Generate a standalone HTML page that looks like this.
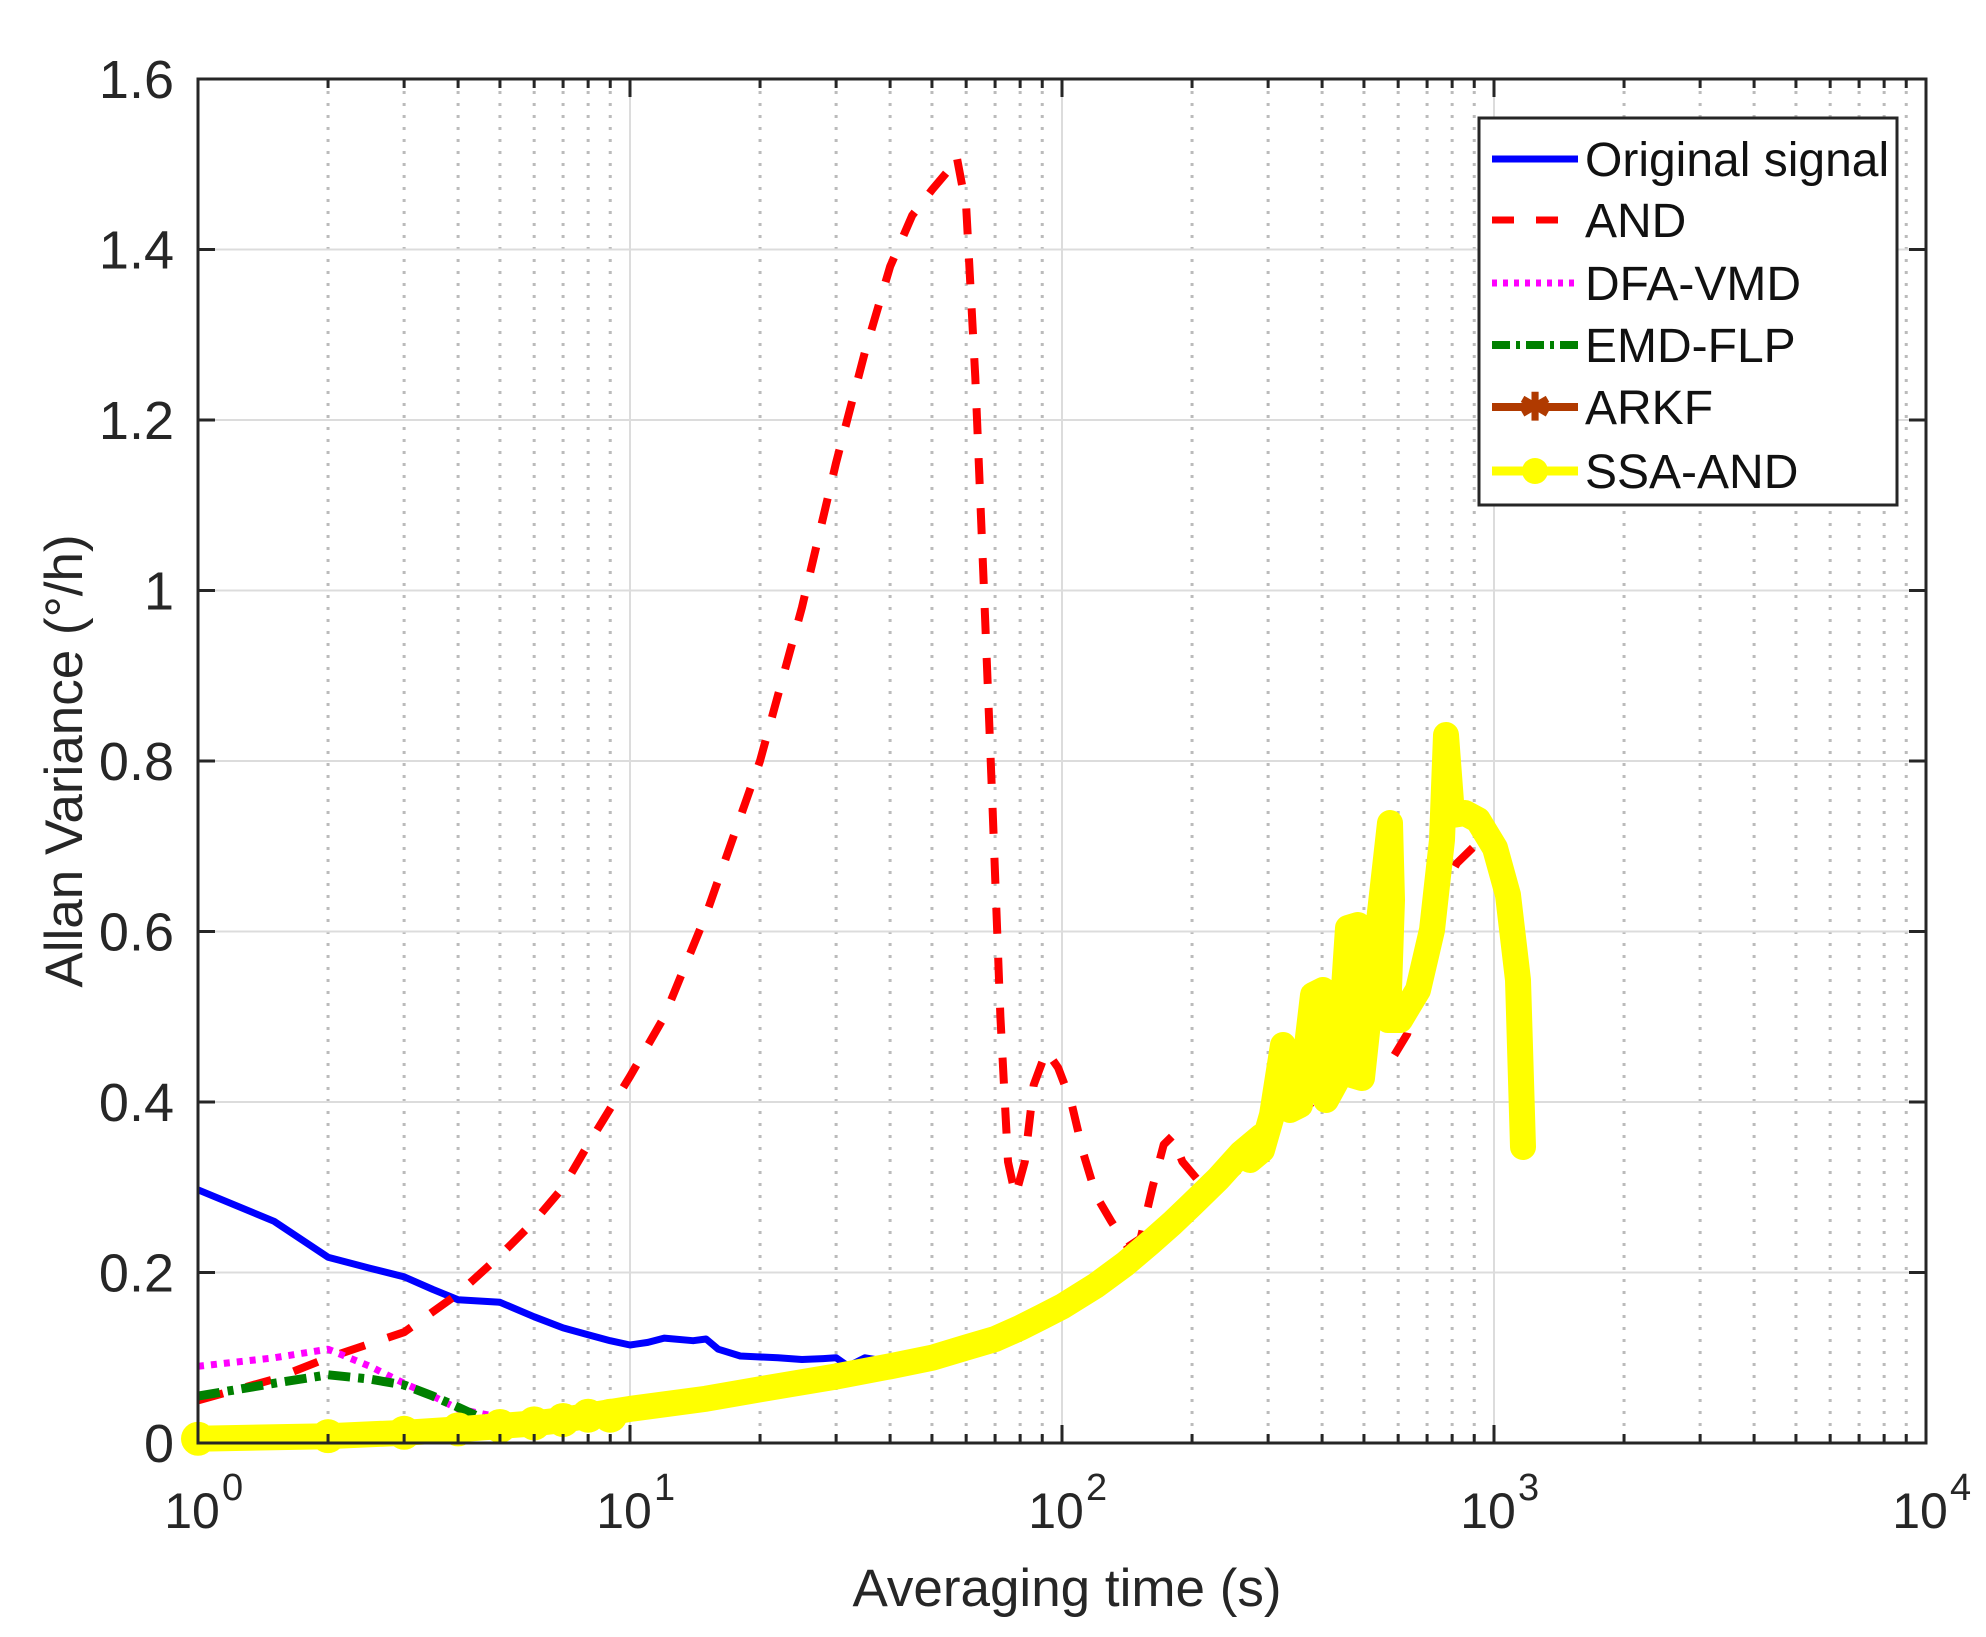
<!DOCTYPE html>
<html><head><meta charset="utf-8"><style>
html,body{margin:0;padding:0;background:#fff;}
svg{display:block;font-family:"Liberation Sans",Arial,sans-serif;}
</style></head><body>
<svg id="s" width="1986" height="1637" viewBox="0 0 1986 1637" xmlns="http://www.w3.org/2000/svg">
<rect width="1986" height="1637" fill="#fff"/>
<g id="grid"></g>
<g id="series" fill="none" stroke-linejoin="round"></g>
<rect x="198" y="79" width="1728" height="1364" fill="none" stroke="#262626" stroke-width="3"/>
<g id="ticks" stroke="#262626" stroke-width="3"></g>
<g id="labels" fill="#262626"></g>
<text x="1067" y="1606" font-size="53" text-anchor="middle" fill="#262626">Averaging time (s)</text>
<text transform="translate(82,761) rotate(-90)" font-size="53" text-anchor="middle" fill="#262626">Allan Variance (°/h)</text>
<g id="legend">
<rect x="1479" y="118" width="418" height="387" fill="#fff" stroke="#262626" stroke-width="3"/>
<line x1="1492" y1="159" x2="1578" y2="159" stroke="#0000ff" stroke-width="7"/>
<line x1="1492" y1="220" x2="1578" y2="220" stroke="#ff0000" stroke-width="7" stroke-dasharray="22,22"/>
<line x1="1492" y1="283" x2="1578" y2="283" stroke="#ff00ff" stroke-width="7" stroke-dasharray="5,6"/>
<line x1="1492" y1="345" x2="1578" y2="345" stroke="#008000" stroke-width="8" stroke-dasharray="18,6,4,6"/>
<line x1="1492" y1="407" x2="1578" y2="407" stroke="#b03a00" stroke-width="8"/>
<text x="1535" y="420" font-size="38" text-anchor="middle" fill="#b03a00" font-weight="bold">✱</text>
<line x1="1492" y1="471" x2="1578" y2="471" stroke="#ffff00" stroke-width="9"/>
<circle cx="1535" cy="471" r="13" fill="#ffff00"/>
<g font-size="48" fill="#111">
<text x="1585" y="176">Original signal</text>
<text x="1585" y="237">AND</text>
<text x="1585" y="300">DFA-VMD</text>
<text x="1585" y="362">EMD-FLP</text>
<text x="1585" y="424">ARKF</text>
<text x="1585" y="488">SSA-AND</text>
</g>
</g>
</svg>
<script>
var NS="http://www.w3.org/2000/svg";
function X(t){return 198+432*Math.log10(t);}
function Y(v){return 1443-852.5*v;}
function el(p,tag,a){var e=document.createElementNS(NS,tag);for(var k in a)e.setAttribute(k,a[k]);p.appendChild(e);return e;}
var g=document.getElementById('grid'),tk=document.getElementById('ticks'),lb=document.getElementById('labels');
for(var d=0;d<4;d++)for(var m=2;m<=9;m++){var x=X(m*Math.pow(10,d));
 el(g,'line',{x1:x,y1:79,x2:x,y2:1443,stroke:'#bbb','stroke-width':3,'stroke-dasharray':'3,9'});
 el(tk,'line',{x1:x,y1:1443,x2:x,y2:1434});el(tk,'line',{x1:x,y1:79,x2:x,y2:88});}
for(var d=0;d<=4;d++){var x=X(Math.pow(10,d));
 el(g,'line',{x1:x,y1:79,x2:x,y2:1443,stroke:'#dcdcdc','stroke-width':2});
 el(tk,'line',{x1:x,y1:1443,x2:x,y2:1425});el(tk,'line',{x1:x,y1:79,x2:x,y2:97});
 var t=el(lb,'text',{x:x-6,y:1528,'font-size':50,'text-anchor':'middle'});t.textContent='10';
 var s=el(lb,'text',{x:x+24,y:1500,'font-size':38});s.textContent=String(d);}
var yl=['0','0.2','0.4','0.6','0.8','1','1.2','1.4','1.6'];
for(var i=0;i<=8;i++){var y=Y(i*0.2);
 if(i>0&&i<8)el(g,'line',{x1:198,y1:y,x2:1926,y2:y,stroke:'#dcdcdc','stroke-width':2});
 el(tk,'line',{x1:198,y1:y,x2:215,y2:y});el(tk,'line',{x1:1926,y1:y,x2:1909,y2:y});
 var t=el(lb,'text',{x:174,y:y+19,'font-size':54,'text-anchor':'end'});t.textContent=yl[i];}
function path(pts){return pts.map(function(p,i){return (i?'L':'M')+X(p[0]).toFixed(1)+','+Y(p[1]).toFixed(1);}).join(' ');}
var S=document.getElementById('series');
var blue=[[1,0.297],[1.5,0.26],[2,0.218],[2.5,0.205],[3,0.195],[3.5,0.18],[4,0.168],[5,0.165],[6,0.148],[7,0.135],[8,0.127],[9,0.12],[10,0.115],[11,0.118],[12,0.123],[14,0.12],[15,0.122],[16,0.11],[18,0.102],[22,0.1],[25,0.098],[28,0.099],[30,0.1],[32,0.09],[35,0.1],[38,0.097],[40,0.1],[45,0.1]];
el(S,'path',{d:path(blue),stroke:'#0000ff','stroke-width':7});
var red=[[1,0.05],[1.5,0.075],[2,0.1],[3,0.13],[4,0.175],[5,0.22],[6,0.26],[7,0.3],[8,0.35],[10,0.43],[12,0.5],[15,0.62],[20,0.8],[25,0.98],[30,1.15],[35,1.28],[40,1.38],[45,1.44],[50,1.47],[54,1.49],[57,1.51],[60,1.45],[63,1.25],[66,1.0],[69,0.75],[72,0.5],[75,0.33],[78,0.29],[82,0.33],[86,0.42],[92,0.46],[98,0.44],[105,0.4],[112,0.34],[120,0.29],[130,0.26],[142,0.23],[152,0.24],[162,0.3],[172,0.35],[180,0.36],[190,0.33],[205,0.31],[230,0.3],[270,0.33],[320,0.37],[380,0.4],[430,0.43],[470,0.41],[520,0.45],[580,0.45],[630,0.48],[700,0.6],[760,0.65],[820,0.68],[900,0.7],[960,0.7]];
el(S,'path',{d:path(red),stroke:'#ff0000','stroke-width':8,'stroke-dasharray':'26,24'});
var mag=[[1,0.09],[1.5,0.1],[2,0.11],[2.5,0.09],[3,0.07],[3.5,0.055],[4,0.04],[5,0.03],[6,0.03],[7,0.035]];
el(S,'path',{d:path(mag),stroke:'#ff00ff','stroke-width':7,'stroke-dasharray':'6,7'});
var grn=[[1,0.055],[1.5,0.07],[2,0.08],[2.5,0.075],[3,0.068],[3.5,0.055],[4,0.042],[4.5,0.03],[5,0.022],[5.5,0.02]];
el(S,'path',{d:path(grn),stroke:'#008000','stroke-width':9,'stroke-dasharray':'22,8,6,8'});
var ark=[[1,0.008],[2,0.012],[3,0.017],[4,0.02],[5,0.025],[7,0.03],[10,0.04]];
el(S,'path',{d:path(ark),stroke:'#c8641e','stroke-width':5});
var yel=[[1,0.005],[2,0.008],[3,0.012],[4,0.016],[5,0.02],[6,0.023],[7,0.027],[8,0.032],[10,0.04],[15,0.052],[20,0.063],[30,0.078],[40,0.09],[50,0.1],[60,0.112],[70,0.122],[80,0.135],[90,0.148],[100,0.16],[120,0.185],[140,0.21],[160,0.235],[180,0.258],[200,0.28],[230,0.31],[260,0.34],[290,0.36]];
var d=path(yel);
var tail=[[1250,1160],[1262,1150],[1272,1115],[1283,1045],[1290,1110],[1300,1105],[1313,995],[1323,990],[1326,1100],[1338,1078],[1348,928],[1358,925],[1352,1075],[1362,1078],[1378,930],[1390,823],[1392,900],[1388,1020],[1400,1020],[1418,990],[1432,930],[1442,840],[1446,735],[1452,815],[1465,813],[1478,820],[1495,848],[1508,895],[1518,980],[1523,1147]];
tail.forEach(function(p){d+=' L'+p[0]+','+p[1];});
el(S,'path',{d:d,stroke:'#ffff00','stroke-width':26,'stroke-linecap':'round'});
[1,2,3,4,5,6,7,8,9].forEach(function(t,i){var v=yel.filter(function(p){return p[0]<=t;}).pop()[1];
 el(S,'circle',{cx:X(t),cy:Y(v),r:17,fill:'#ffff00'});});
</script>
</body></html>
